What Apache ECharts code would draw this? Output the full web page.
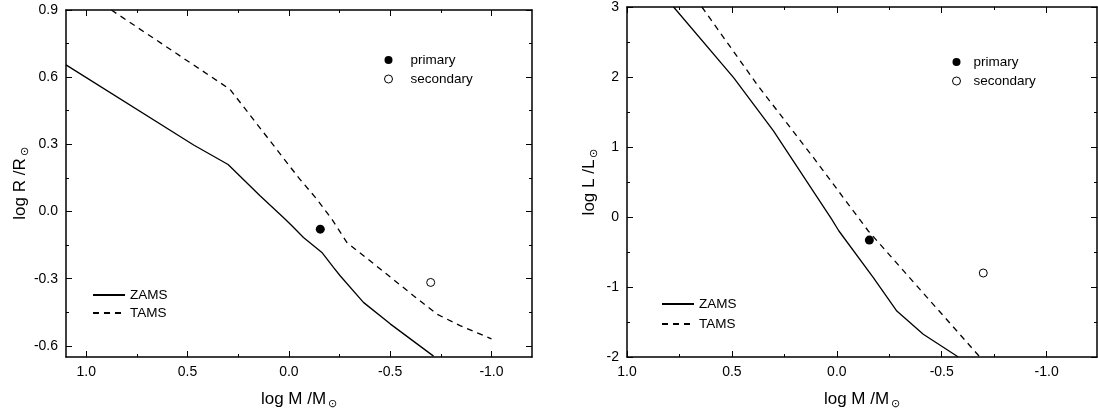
<!DOCTYPE html>
<html>
<head>
<meta charset="utf-8">
<script src="https://cdn.jsdelivr.net/npm/echarts@6/dist/echarts.min.js"></script>
<style>
  html, body { margin: 0; padding: 0; background: #fff; }
  #main { width: 1098px; height: 416px; }
</style>
</head>
<body>
<div id="main"></div>
<script>
// ---- data (log M/Msun, value) ----
var zamsR = [[1.1,0.655],[0.47,0.297],[0.30,0.21],[0.141,0.069],[0.027,-0.027],[-0.015,-0.064],[-0.072,-0.116],[-0.163,-0.183],[-0.22,-0.25],[-0.253,-0.287],[-0.368,-0.406],[-0.5,-0.502],[-0.714,-0.646]];
var tamsR = [[0.876,0.9],[0.339,0.575],[0.29,0.545],[-0.048,0.151],[-0.138,0.055],[-0.212,-0.034],[-0.286,-0.138],[-0.451,-0.257],[-0.615,-0.376],[-0.73,-0.458],[-0.845,-0.51],[-1.0,-0.569]];
var zamsL = [[0.778,3.0],[0.492,1.99],[0.302,1.229],[0.024,-0.033],[-0.01,-0.2],[-0.174,-0.867],[-0.286,-1.343],[-0.412,-1.676],[-0.579,-2.0]];
var tamsL = [[0.643,3.0],[0.381,1.896],[0.111,0.847],[-0.15,-0.2],[-0.333,-0.82],[-0.682,-2.0]];
var primaryR = [[-0.155,-0.079]];
var secondaryR = [[-0.70,-0.317]];
var primaryL = [[-0.155,-0.33]];
var secondaryL = [[-0.698,-0.80]];

var xMajor = [1.0,0.5,0.0,-0.5,-1.0];
var xMinor = [0.75,0.25,-0.25,-0.75];
var rMajor = [-0.6,-0.3,0.0,0.3,0.6,0.9];
var rMinor = [-0.45,-0.15,0.15,0.45,0.75];
var lMajor = [-2,-1,0,1,2,3];
var lMinor = [-1.5,-0.5,0.5,1.5,2.5];

var font = 'Liberation Sans, Arial, sans-serif';
var black = '#000';

function fmt1(v) { return v.toFixed(1); }
function fmt0(v) { return String(Math.round(v)); }

// builds the 4 axes of one side: main (labels), minor ticks, mirror main, mirror minor
function makeAxes(dim, grid, min, max, major, minor, fmt, nm) {
  var pos = dim === 'x' ? ['bottom','top'] : ['left','right'];
  var base = { type: 'value', gridIndex: grid, min: min, max: max, inverse: dim === 'x', splitLine: { show: false } };
  function ax(p, vals, len, line, labels) {
    var a = Object.assign({}, base, {
      position: p,
      axisLine: { show: line, onZero: false, lineStyle: { color: black, width: 1.5 } },
      axisTick: { show: true, inside: true, length: len, customValues: vals, lineStyle: { color: black, width: 1 } },
      axisLabel: labels ? { customValues: vals, formatter: fmt, color: black, fontSize: 14, fontFamily: font, margin: 8 } : { show: false }
    });
    return a;
  }
  var main = ax(pos[0], major, 6, true, true);
  if (nm) Object.assign(main, nm);
  return [main, ax(pos[0], minor, 3, false, false), ax(pos[1], major, 6, true, false), ax(pos[1], minor, 3, false, false)];
}

var rich = {
  m: { fontSize: 17, fontFamily: font, color: black },
  s: { fontSize: 11, fontFamily: font, color: black, padding: [9, 0, 0, 2] }
};
function nameOpt(text, gap) {
  return { name: '{m|' + text + '}{s|\u2299}', nameLocation: 'middle', nameGap: gap, nameTextStyle: { rich: rich } };
}

var xA = makeAxes('x', 0, -1.2, 1.1, xMajor, xMinor, fmt1, nameOpt('log M /M', 32))
  .concat(makeAxes('x', 1, -1.24, 1.0, xMajor, xMinor, fmt1, nameOpt('log M /M', 32)));
var yA = makeAxes('y', 0, -0.65, 0.9, rMajor, rMinor, fmt1, nameOpt('log R /R', 36))
  .concat(makeAxes('y', 1, -2, 3, lMajor, lMinor, fmt0, nameOpt('log L /L', 28)));

function line(name, data, g, dashed) {
  return { name: name, type: 'line', xAxisIndex: g * 4, yAxisIndex: g * 4, data: data, showSymbol: false, symbol: 'none',
    lineStyle: { color: black, width: 1.3, type: dashed ? [6, 5] : 'solid' }, itemStyle: { color: black }, z: 3, silent: true };
}
function pts(name, data, g, open) {
  return { name: name, type: 'scatter', xAxisIndex: g * 4, yAxisIndex: g * 4, data: data, symbol: 'circle', symbolSize: open ? 8 : 9,
    itemStyle: { color: open ? '#fff' : black, borderColor: black, borderWidth: open ? 1 : 0, opacity: 1 }, z: 4, silent: true };
}

var legendText = { color: black, fontSize: 13.5, fontFamily: font };
function lineLegend(left, top, gap) {
  return { orient: 'vertical', left: left, top: top, padding: 0, itemWidth: 32, itemHeight: 10, itemGap: gap,
    data: ['ZAMS','TAMS'], textStyle: legendText, selectedMode: false,
    itemStyle: { color: 'rgba(0,0,0,0)', borderWidth: 0, opacity: 0 } };
}
function ptLegend(left, top, w) {
  return { orient: 'vertical', left: left, top: top, padding: 0, itemWidth: w, itemHeight: 8, itemGap: 5,
    data: ['primary', { name: 'secondary', itemStyle: { borderWidth: 1 } }], textStyle: legendText, selectedMode: false };
}

var chart = echarts.init(document.getElementById('main'), null, { renderer: 'canvas' });
chart.setOption({
  animation: false,
  backgroundColor: '#fff',
  grid: [
    { left: 66, top: 10, width: 466, height: 347 },
    { left: 627, top: 6, width: 470, height: 351 }
  ],
  xAxis: xA,
  yAxis: yA,
  legend: [
    lineLegend(92, 288, 4),
    ptLegend(384, 53, 34),
    lineLegend(661, 297, 6),
    ptLegend(952, 55, 24)
  ],
  series: [
    line('ZAMS', zamsR, 0, false),
    line('TAMS', tamsR, 0, true),
    pts('primary', primaryR, 0, false),
    pts('secondary', secondaryR, 0, true),
    line('ZAMS', zamsL, 1, false),
    line('TAMS', tamsL, 1, true),
    pts('primary', primaryL, 1, false),
    pts('secondary', secondaryL, 1, true)
  ]
});
</script>
</body>
</html>
